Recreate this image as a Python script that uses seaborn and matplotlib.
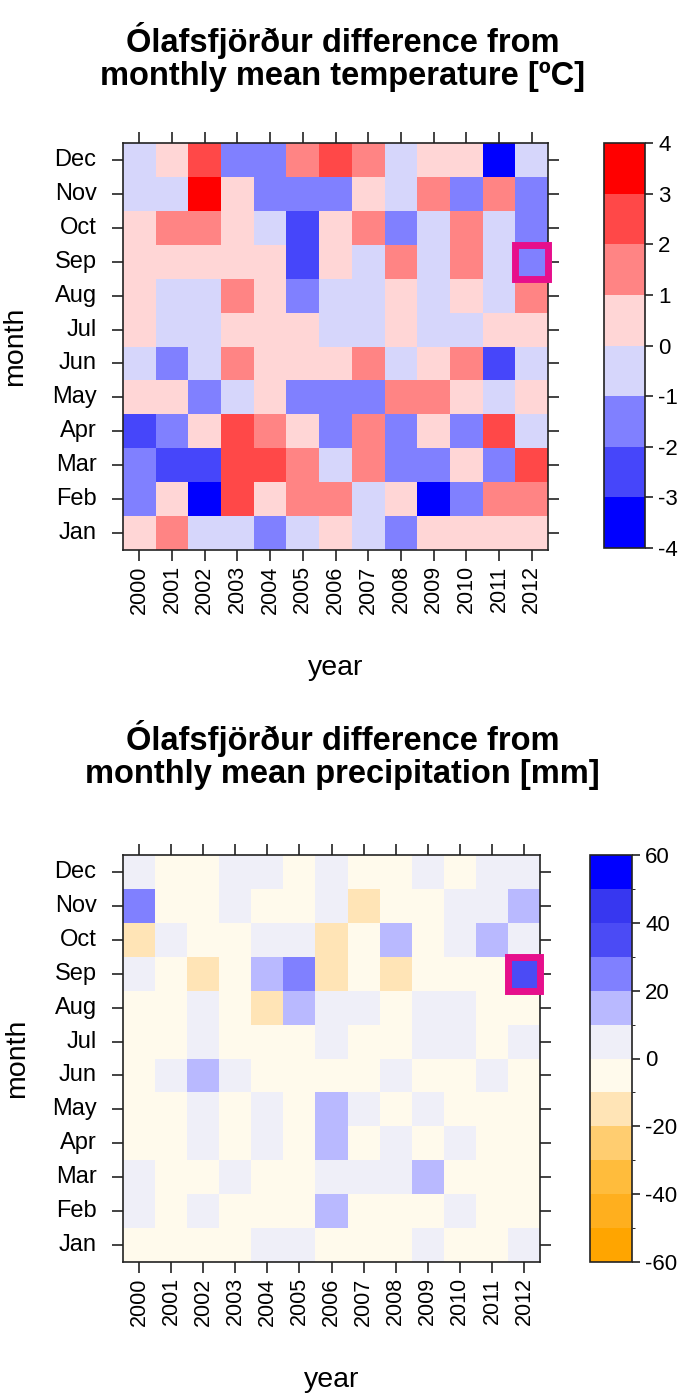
import matplotlib
matplotlib.use("Agg")
import matplotlib.pyplot as plt
from matplotlib.colors import ListedColormap, BoundaryNorm
from matplotlib.patches import Rectangle
import numpy as np
import pandas as pd
import seaborn as sns

# data (rows top to bottom: Dec ... Jan)
years = [str(y) for y in range(2000, 2013)]
months = ["Dec", "Nov", "Oct", "Sep", "Aug", "Jul", "Jun", "May", "Apr", "Mar", "Feb", "Jan"]

temp_dec = [-0.5, 0.5, 2.5, -1.5, -1.5, 1.5, 2.5, 1.5, -0.5, 0.5, 0.5, -3.5, -0.5]
temp_nov = [-0.5, -0.5, 3.5, 0.5, -1.5, -1.5, -1.5, 0.5, -0.5, 1.5, -1.5, 1.5, -1.5]
temp_oct = [0.5, 1.5, 1.5, 0.5, -0.5, -2.5, 0.5, 1.5, -1.5, -0.5, 1.5, -0.5, -1.5]
temp_sep = [0.5, 0.5, 0.5, 0.5, 0.5, -2.5, 0.5, -0.5, 1.5, -0.5, 1.5, -0.5, -1.5]
temp_aug = [0.5, -0.5, -0.5, 1.5, 0.5, -1.5, -0.5, -0.5, 0.5, -0.5, 0.5, -0.5, 1.5]
temp_jul = [0.5, -0.5, -0.5, 0.5, 0.5, 0.5, -0.5, -0.5, 0.5, -0.5, -0.5, 0.5, 0.5]
temp_jun = [-0.5, -1.5, -0.5, 1.5, 0.5, 0.5, 0.5, 1.5, -0.5, 0.5, 1.5, -2.5, -0.5]
temp_may = [0.5, 0.5, -1.5, -0.5, 0.5, -1.5, -1.5, -1.5, 1.5, 1.5, 0.5, -0.5, 0.5]
temp_apr = [-2.5, -1.5, 0.5, 2.5, 1.5, 0.5, -1.5, 1.5, -1.5, 0.5, -1.5, 2.5, -0.5]
temp_mar = [-1.5, -2.5, -2.5, 2.5, 2.5, 1.5, -0.5, 1.5, -1.5, -1.5, 0.5, -1.5, 2.5]
temp_feb = [-1.5, 0.5, -3.5, 2.5, 0.5, 1.5, 1.5, -0.5, 0.5, -3.5, -1.5, 1.5, 1.5]
temp_jan = [0.5, 1.5, -0.5, -0.5, -1.5, -0.5, 0.5, -0.5, -1.5, 0.5, 0.5, 0.5, 0.5]

prec_dec = [5, -5, -5, 5, 5, -5, 5, -5, -5, 5, -5, 5, 5]
prec_nov = [25, -5, -5, 5, -5, -5, 5, -15, -5, -5, 5, 5, 15]
prec_oct = [-15, 5, -5, -5, 5, 5, -15, -5, 15, -5, 5, 15, 5]
prec_sep = [5, -5, -15, -5, 15, 25, -15, -5, -15, -5, -5, -5, 35]
prec_aug = [-5, -5, 5, -5, -15, 15, 5, 5, -5, 5, 5, -5, -5]
prec_jul = [-5, -5, 5, -5, -5, -5, 5, -5, -5, 5, 5, -5, 5]
prec_jun = [-5, 5, 15, 5, -5, -5, -5, -5, 5, -5, -5, 5, -5]
prec_may = [-5, -5, 5, -5, 5, -5, 15, 5, -5, 5, -5, -5, -5]
prec_apr = [-5, -5, 5, -5, 5, -5, 15, -5, 5, -5, 5, -5, -5]
prec_mar = [5, -5, -5, 5, -5, -5, 5, 5, 5, 15, -5, -5, -5]
prec_feb = [5, -5, 5, -5, -5, -5, 15, -5, -5, -5, 5, -5, -5]
prec_jan = [-5, -5, -5, -5, 5, 5, -5, -5, -5, 5, -5, -5, 5]

temp_levels = [-4, -3, -2, -1, 0, 1, 2, 3, 4]
prec_levels = [-60, -50, -40, -30, -20, -10, 0, 10, 20, 30, 40, 50, 60]
prec_ticks = [-60, -40, -20, 0, 20, 40, 60]

temp_colors = ["#0000FF", "#4646FA", "#8080FF", "#D6D6FB",
               "#FFD6D6", "#FF8484", "#FF4848", "#FF0000"]
prec_colors = ["#FFA500", "#FFAF1E", "#FFBC3C", "#FFCD70", "#FFE4B6", "#FFFAEC",
               "#EFEFF8", "#B9B9FF", "#8080FF", "#4B4BF5", "#3737F0", "#0000FF"]

highlight = "#E60F8C"

plt.rcParams['font.family'] = ['Liberation Sans', 'DejaVu Sans']

fig = plt.figure(figsize=(6.85, 13.96), dpi=100)


def draw_panel(rows, levels, ticks, colors, title, ax_rect, cb_rect, title_y):
    df = pd.DataFrame(rows, index=months, columns=years)
    cmap = ListedColormap(colors)
    norm = BoundaryNorm(levels, cmap.N)
    ax = fig.add_axes(ax_rect)
    cax = fig.add_axes(cb_rect)
    sns.heatmap(df, ax=ax, cbar_ax=cax, cmap=cmap, norm=norm,
                linewidths=0, cbar_kws={"ticks": ticks})
    for sp in ax.spines.values():
        sp.set_visible(True)
        sp.set_linewidth(1.2)
        sp.set_color("#222222")
    ax.tick_params(axis="both", which="both", direction="out", length=8, width=1.2,
                   top=True, right=True, labeltop=False, labelright=False,
                   color="#222222")
    ax.tick_params(axis="y", pad=11, labelsize=17)
    ax.tick_params(axis="x", pad=3, labelsize=15.5)
    ax.set_xticklabels(years, rotation=90)
    ax.set_yticklabels(months, rotation=0)
    ax.set_xlabel("year", fontsize=20.5)
    ax.set_ylabel("month", fontsize=20.5)
    ax.xaxis.set_label_coords(0.5, -0.258)
    ax.yaxis.set_label_coords(-0.224, 0.5)

    # highlighted cell: Sep 2012
    r = months.index("Sep")
    c = years.index("2012")
    ax.add_patch(Rectangle((c, r), 1, 1, fill=False, edgecolor=highlight,
                           linewidth=5, clip_on=False, zorder=5))

    cax.tick_params(direction="out", length=6, width=1.2, labelsize=16, color="#222222")
    cax.set_yticklabels([str(v) for v in ticks])
    cb = ax.collections[0].colorbar
    cb.outline.set_linewidth(1.2)
    cb.outline.set_edgecolor("#222222")

    fig.text(0.5, title_y, title, ha="center", va="center", fontsize=23.5,
             fontweight="bold", linespacing=1.1)


temp_rows = [temp_dec, temp_nov, temp_oct, temp_sep, temp_aug, temp_jul,
             temp_jun, temp_may, temp_apr, temp_mar, temp_feb, temp_jan]
prec_rows = [prec_dec, prec_nov, prec_oct, prec_sep, prec_aug, prec_jul,
             prec_jun, prec_may, prec_apr, prec_mar, prec_feb, prec_jan]

H = 1396.0
W = 685.0

draw_panel(temp_rows, temp_levels, temp_levels, temp_colors,
           "Ólafsfjörður difference from\nmonthly mean temperature [ºC]",
           [123 / W, 1 - 550 / H, 425 / W, 407 / H],
           [604 / W, 1 - 548 / H, 41 / W, 405 / H],
           1 - 57 / H)

draw_panel(prec_rows, prec_levels, prec_ticks, prec_colors,
           "Ólafsfjörður difference from\nmonthly mean precipitation [mm]",
           [123 / W, 1 - 1262 / H, 417 / W, 407 / H],
           [590 / W, 1 - 1262 / H, 42 / W, 407 / H],
           1 - 755 / H)

fig.savefig("out.png", dpi=100)
